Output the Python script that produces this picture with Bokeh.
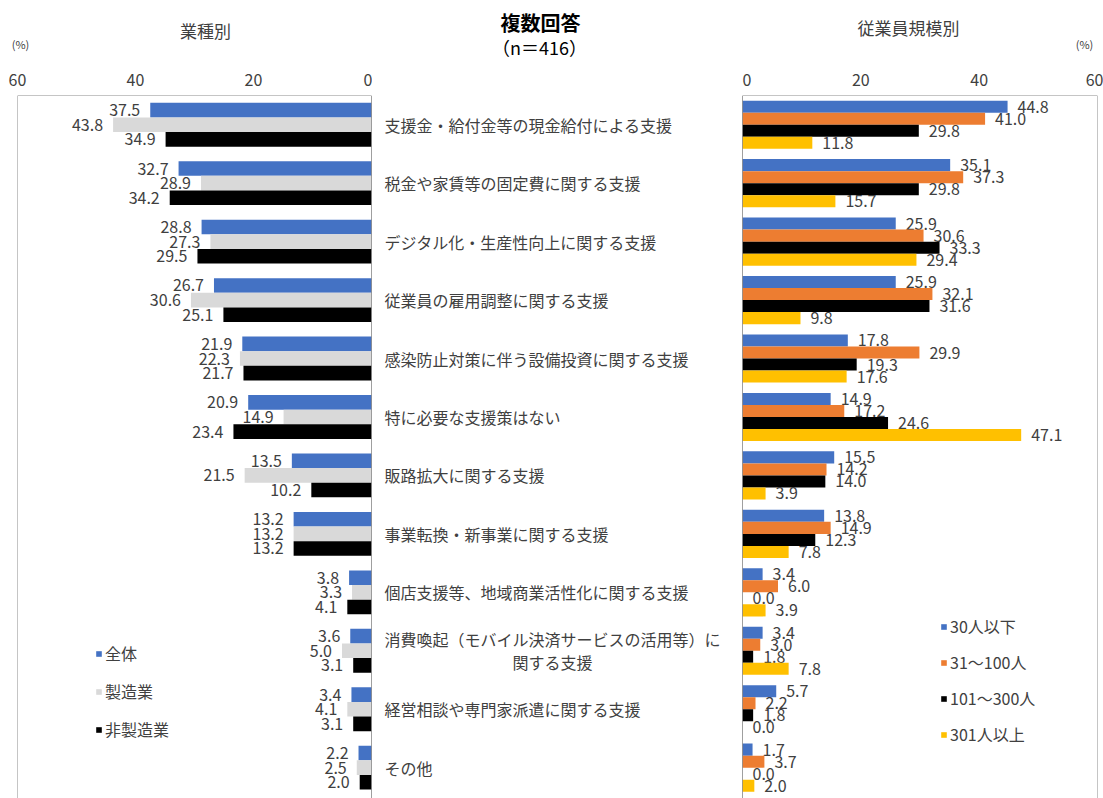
from bokeh.plotting import figure
from bokeh.models import (Range1d, FixedTicker, Legend, LegendItem, Span,
                          ColumnDataSource)
from bokeh.layouts import row, column
from bokeh.embed import file_html
from bokeh.resources import INLINE
from bokeh.core.properties import value

# ---------------- data ----------------
categories = [
    "支援金・給付金等の現金給付による支援",
    "税金や家賃等の固定費に関する支援",
    "デジタル化・生産性向上に関する支援",
    "従業員の雇用調整に関する支援",
    "感染防止対策に伴う設備投資に関する支援",
    "特に必要な支援策はない",
    "販路拡大に関する支援",
    "事業転換・新事業に関する支援",
    "個店支援等、地域商業活性化に関する支援",
    "消費喚起（モバイル決済サービスの活用等）に\n関する支援",
    "経営相談や専門家派遣に関する支援",
    "その他",
]

industry_names = ["全体", "製造業", "非製造業"]
industry_all = [37.5, 32.7, 28.8, 26.7, 21.9, 20.9, 13.5, 13.2, 3.8, 3.6, 3.4, 2.2]
industry_mfg = [43.8, 28.9, 27.3, 30.6, 22.3, 14.9, 21.5, 13.2, 3.3, 5.0, 4.1, 2.5]
industry_non = [34.9, 34.2, 29.5, 25.1, 21.7, 23.4, 10.2, 13.2, 4.1, 3.1, 3.1, 2.0]

size_names = ["30人以下", "31～100人", "101～300人", "301人以上"]
size_le30 = [44.8, 35.1, 25.9, 25.9, 17.8, 14.9, 15.5, 13.8, 3.4, 3.4, 5.7, 1.7]
size_31_100 = [41.0, 37.3, 30.6, 32.1, 29.9, 17.2, 14.2, 14.9, 6.0, 3.0, 2.2, 3.7]
size_101_300 = [29.8, 29.8, 33.3, 31.6, 19.3, 24.6, 14.0, 12.3, 0.0, 1.8, 1.8, 0.0]
size_301 = [11.8, 15.7, 29.4, 9.8, 17.6, 47.1, 3.9, 7.8, 3.9, 7.8, 0.0, 2.0]

x_ticks = [0, 20, 40, 60]

title_main = "複数回答"
title_n = "（n＝416）"
title_left = "業種別"
title_right = "従業員規模別"
unit_label = "(%)"

# ---------------- style ----------------
FONT = "Noto Sans CJK JP"
TXT = "#404040"
FRAME = "#8c8c8c"
W, H = 1103, 798
HEAD = 62            # height of the header strip with the titles
TOP = 95             # y of the plot frames' top edge in the page
PITCH = 58.45        # pixels per category group
N = len(categories)
BODY_H = H - HEAD
Y_END = (H - TOP) / PITCH

ind_colors = ["#4472C4", "#D9D9D9", "#000000"]
size_colors = ["#4472C4", "#ED7D31", "#000000", "#FFC000"]


def make_fig(width, x_range, mb_left, mb_right, axis=True):
    p = figure(width=width, height=BODY_H, x_range=x_range,
               y_range=Range1d(Y_END, 0),
               output_backend="svg", toolbar_location=None,
               x_axis_location="above" if axis else None,
               y_axis_location=None,
               min_border_left=mb_left, min_border_right=mb_right,
               min_border_top=TOP - HEAD, min_border_bottom=0)
    p.outline_line_color = None
    p.grid.visible = False
    p.background_fill_color = "white"
    p.border_fill_color = "white"
    if axis:
        ax = p.xaxis[0]
        ax.ticker = FixedTicker(ticks=x_ticks)
        ax.axis_line_color = None
        ax.major_tick_line_color = None
        ax.minor_tick_line_color = None
        ax.major_label_text_font = FONT
        ax.major_label_text_font_size = "16px"
        ax.major_label_text_color = TXT
        ax.major_label_standoff = 4
    return p


# ---------------- header (titles) ----------------
head = figure(width=W, height=HEAD, x_range=Range1d(0, W), y_range=Range1d(HEAD, 0),
              output_backend="svg", toolbar_location=None,
              x_axis_location=None, y_axis_location=None,
              min_border_left=0, min_border_right=0,
              min_border_top=0, min_border_bottom=0)
head.outline_line_color = None
head.grid.visible = False
head.text(x=[205, 908], y=[30, 27], text=[title_left, title_right],
          text_align="center", text_baseline="middle",
          text_font=value(FONT), text_font_size="17px", text_color=TXT)
head.text(x=[20, 1084], y=[43, 43], text=[unit_label, unit_label],
          text_align="center", text_baseline="middle",
          text_font=value(FONT), text_font_size="11px", text_color=TXT)
head.text(x=[540], y=[22], text=[title_main],
          text_align="center", text_baseline="middle",
          text_font=value(FONT), text_font_size="20px", text_font_style="bold",
          text_color="#000000")
head.text(x=[539], y=[46], text=[title_n],
          text_align="center", text_baseline="middle",
          text_font=value(FONT), text_font_size="18px", text_color="#000000")

# ---------------- left panel (industry) ----------------
left = make_fig(372, Range1d(60, 0), 17, 1)
left.add_layout(Span(location=60, dimension="height", line_color=FRAME, line_width=1))
left.add_layout(Span(location=0, dimension="width", line_color=FRAME, line_width=1))

ind_series = [industry_all, industry_mfg, industry_non]
bh_l = 0.25
left_items = []
for k, (name, vals, col) in enumerate(zip(industry_names, ind_series, ind_colors)):
    ys = [i + 0.5 + (k - 1) * bh_l for i in range(N)]
    src = ColumnDataSource(dict(y=ys, v=vals, t=[f"{v:.1f}" for v in vals]))
    r = left.hbar(y="y", left=0, right="v", height=bh_l, source=src,
                  fill_color=col, line_color=None)
    left.text(x="v", y="y", text="t", source=src, x_offset=-10,
              text_align="right", text_baseline="middle",
              text_font=value(FONT), text_font_size="16px", text_color=TXT)
    left_items.append(LegendItem(label=name, renderers=[r]))

left.add_layout(Span(location=0, dimension="height", line_color="#404040", line_width=1))

leg_l = Legend(items=left_items, location=(78, 57), orientation="vertical",
               glyph_width=7, glyph_height=7, label_standoff=3,
               label_text_font=FONT, label_text_font_size="16px",
               label_text_color=TXT, label_height=20, spacing=14,
               padding=0, margin=0, border_line_color=None,
               background_fill_alpha=0)
left.add_layout(leg_l)

# ---------------- middle panel (category labels) ----------------
mid = make_fig(370, Range1d(0, 370), 0, 0, axis=False)
sx, sy, st = [], [], []
cx, cy, ct = [], [], []
dy = 11.5 / PITCH
for i, c in enumerate(categories):
    lines = c.split("\n")
    if len(lines) == 1:
        sx.append(12); sy.append(i + 0.5); st.append(c)
    else:
        sx.append(12); sy.append(i + 0.5 - dy); st.append(lines[0])
        cx.append(180); cy.append(i + 0.5 + dy); ct.append(lines[1])
mid.text(x=sx, y=sy, text=st, text_align="left", text_baseline="middle",
         text_font=value(FONT), text_font_size="16px", text_color=TXT)
mid.text(x=cx, y=cy, text=ct, text_align="center", text_baseline="middle",
         text_font=value(FONT), text_font_size="16px", text_color=TXT)

# ---------------- right panel (company size) ----------------
right = make_fig(361, Range1d(0, 60), 0, 6)
right.add_layout(Span(location=60, dimension="height", line_color=FRAME, line_width=1))
right.add_layout(Span(location=0, dimension="width", line_color=FRAME, line_width=1))

sz_series = [size_le30, size_31_100, size_101_300, size_301]
bh_r = 0.206
right_items = []
for k, (name, vals, col) in enumerate(zip(size_names, sz_series, size_colors)):
    ys = [i + 0.5 + (k - 1.5) * bh_r for i in range(N)]
    src = ColumnDataSource(dict(y=ys, v=vals, t=[f"{v:.1f}" for v in vals]))
    r = right.hbar(y="y", left=0, right="v", height=bh_r, source=src,
                   fill_color=col, line_color=None)
    right.text(x="v", y="y", text="t", source=src, x_offset=10,
               text_align="left", text_baseline="middle",
               text_font=value(FONT), text_font_size="16px", text_color=TXT)
    right_items.append(LegendItem(label=name, renderers=[r]))

right.add_layout(Span(location=0, dimension="height", line_color="#404040", line_width=1))

leg_r = Legend(items=right_items, location=(198, 52), orientation="vertical",
               glyph_width=7, glyph_height=7, label_standoff=3,
               label_text_font=FONT, label_text_font_size="16px",
               label_text_color=TXT, label_height=20, spacing=12,
               padding=0, margin=0, border_line_color=None,
               background_fill_alpha=0)
right.add_layout(leg_r)

layout = column(head, row(left, mid, right, spacing=0), spacing=0)
open("out.html", "w").write(file_html(layout, INLINE))
